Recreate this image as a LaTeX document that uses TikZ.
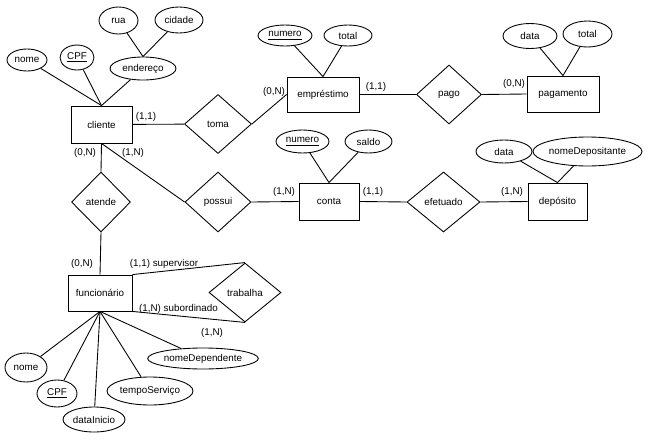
\documentclass[tikz,border=0pt]{standalone}
\usepackage{fontspec}
\setmainfont{Liberation Sans}
\usetikzlibrary{shapes.geometric}

\tikzset{
  entity/.style 2 args={draw, rectangle, inner sep=0pt, minimum width=#1cm, minimum height=#2cm},
  rel/.style 2 args={draw, diamond, inner sep=0pt, minimum width=#1cm, minimum height=#2cm},
  attr/.style 2 args={draw, ellipse, inner sep=0pt, minimum width=#1cm, minimum height=#2cm},
  card/.style={inner sep=0pt},
}

\begin{document}
\begin{tikzpicture}[x=0.02cm, y=-0.02cm, line width=0.5pt,
    font=\fontsize{5.6}{6.7}\selectfont]
  \useasboundingbox (0,0) rectangle (650,443);

  % entidades
  \node[entity={1.22}{0.74}] (cliente) at (101.5,124.5) {cliente};
  \node[entity={1.44}{0.70}] (emprestimo) at (323,94.5) {empréstimo};
  \node[entity={1.44}{0.72}] (pagamento) at (563,94) {pagamento};
  \node[entity={1.20}{0.74}] (conta) at (329,201.5) {conta};
  \node[entity={1.18}{0.74}] (deposito) at (557.5,201.5) {depósito};
  \node[entity={1.28}{0.72}] (funcionario) at (100,293) {funcionário};

  % relacionamentos
  \node[rel={1.34}{1.18}] (toma) at (218,124) {toma};
  \node[rel={1.30}{1.18}] (pago) at (449,94.5) {pago};
  \node[rel={1.18}{1.20}] (atende) at (101,202) {atende};
  \node[rel={1.32}{1.20}] (possui) at (218,202) {possui};
  \node[rel={1.46}{1.20}] (efetuado) at (443.5,202) {efetuado};
  \node[rel={1.44}{1.18}] (trabalha) at (245,292.5) {trabalha};

  % atributos de cliente
  \node[attr={0.80}{0.44}] (cNome) at (27,60) {nome};
  \node[attr={0.68}{0.50}] (cCpf) at (77,57.5) {\underline{CPF}};
  \node[attr={1.32}{0.46}] (cEndereco) at (143,68.5) {endereço};
  \node[attr={0.78}{0.54}] (cRua) at (118.5,20.5) {rua};
  \node[attr={0.96}{0.52}] (cCidade) at (179,20) {cidade};
  \draw (cNome) -- (cliente.north);
  \draw (cCpf) -- (cliente.north);
  \draw (cEndereco) -- (cliente.north);
  \draw (cRua) -- (cEndereco.north);
  \draw (cCidade) -- (cEndereco.north);

  % atributos de empréstimo e pagamento
  \node[attr={1.08}{0.42}] (eNumero) at (285,35.5) {\underline{numero}};
  \node[attr={0.96}{0.42}] (eTotal) at (348,35.5) {total};
  \draw (eNumero) -- (emprestimo.north);
  \draw (eTotal) -- (emprestimo.north);
  \node[attr={1.08}{0.50}] (pData) at (530,36) {data};
  \node[attr={0.98}{0.52}] (pTotal) at (587.5,34) {total};
  \draw (pData) -- (pagamento.north);
  \draw (pTotal) -- (pagamento.north);

  % atributos de conta e depósito
  \node[attr={1.06}{0.46}] (kNumero) at (302.5,141.5) {\underline{numero}};
  \node[attr={0.94}{0.46}] (kSaldo) at (368.5,141.5) {saldo};
  \draw (kNumero) -- (conta.north);
  \draw (kSaldo) -- (conta.north);
  \node[attr={1.12}{0.46}] (dData) at (504,151.5) {data};
  \node[attr={2.18}{0.58}] (dNome) at (587.5,151.5) {nomeDepositante};
  \draw (dData) -- (deposito.north);
  \draw (dNome) -- (deposito.north);

  % atributos de funcionário
  \node[attr={0.84}{0.58}] (fNome) at (26,367.5) {nome};
  \node[attr={0.80}{0.54}] (fCpf) at (57,393.5) {\underline{CPF}};
  \node[attr={1.24}{0.50}] (fData) at (94,419.5) {dataInicio};
  \node[attr={1.72}{0.56}] (fTempo) at (150,391) {tempoServiço};
  \node[attr={2.20}{0.42}] (fDep) at (203,358.5) {nomeDependente};
  \foreach \a in {fNome, fCpf, fData, fTempo, fDep}
    \draw (funcionario.south) -- (\a);

  % ligações
  \draw (cliente) -- (toma);
  \draw (toma.east) -- (emprestimo.west);
  \draw (emprestimo.east) -- (pago.west);
  \draw (pago.east) -- (pagamento.west);
  \draw (cliente.south) -- (atende.north);
  \draw (atende.south) -- (funcionario.north);
  \draw (cliente.south) -- (possui.west);
  \draw (possui.east) -- (conta.west);
  \draw (conta.east) -- (efetuado.west);
  \draw (efetuado.east) -- (deposito.west);
  \draw (funcionario.north east) -- (trabalha.north);
  \draw (funcionario.south east) -- (trabalha.south);

  % cardinalidades
  \node[card] (c1) at (146,117) {(1,1)};
  \node[card] (c2) at (274,92) {(0,N)};
  \node[card] (c3) at (376,87) {(1,1)};
  \node[card] (c4) at (514,84) {(0,N)};
  \node[card] (c5) at (85,153) {(0,N)};
  \node[card] (c6) at (133,153) {(1,N)};
  \node[card] (c7) at (284,192) {(1,N)};
  \node[card] (c8) at (373,192) {(1,1)};
  \node[card] (c9) at (512,192) {(1,N)};
  \node[card] (c10) at (82,264) {(0,N)};
  \node[card] (c11) at (164,264) {(1,1) supervisor};
  \node[card] (c12) at (178.5,309) {(1,N) subordinado};
  \node[card] (c13) at (212,332.5) {(1,N)};
\end{tikzpicture}
\end{document}
